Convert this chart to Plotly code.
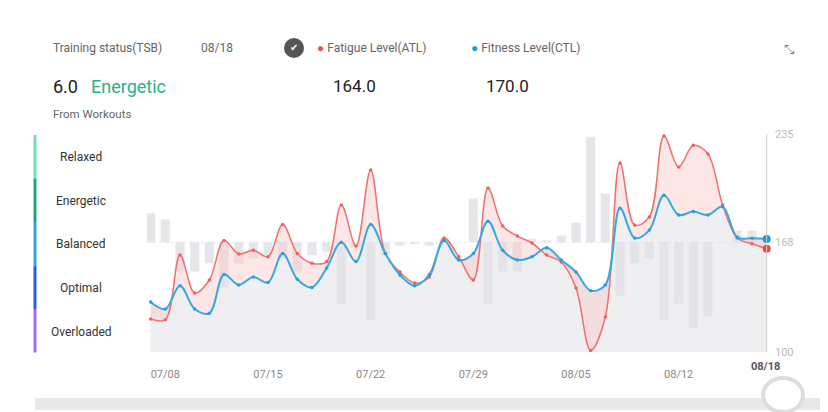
import plotly.graph_objects as go
import pandas as pd

dates = pd.date_range("2024-07-07", "2024-08-18").strftime("%Y-%m-%d").tolist()
atl = [120.4,120,160,136.5,144.6,169,160.7,163,159,179,161,155,156,191,165.6,212.7,161,149.5,
       142.7,146.4,170.6,159,144.6,201.5,178,171.8,167.5,160,155.7,139.6,101,121.7,217,178.6,183.6,
       233.7,214.6,228,222.6,191,170.6,167,164]
ctl = [131,126.6,141,126.6,124,148,141.5,146.4,143,161,145,140,152,168,156,179,161,147.7,
       141,148,169,157,161,181,163,157,159,164.5,157,149.5,138,141.5,189,170.6,175.5,
       197,184.8,187,184.8,190,171,170.5,170]
bars = [186,182,150,150,155,140,155,158,160,158,150,160,162,130,165,120,160,166,167,166,170,168,
        195,130,150,150,170,169,172,180,233,198,135,155,158,120,130,115,122,168,175,175,168]
status = ["Relaxed","Energetic","Balanced","Optimal","Overloaded"]
status_colors = ["#6fdcbc","#1fa67c","#2ea6dc","#2b5fd3","#a868f0"]
tick_dates = ["2024-07-08","2024-07-15","2024-07-22","2024-07-29","2024-08-05","2024-08-12"]
base = 168

OX, OY = 9, 8
W, H = 828 - OX, 412 - OY
L, R, T, B = 148 - OX, 53, 134 - OY, 60
def px(x): return (x - OX - L) / (W - L - R)
def py(y): return 1 - (y - OY - T) / (H - T - B)

fig = go.Figure()
fig.add_bar(x=dates, y=[b-base for b in bars], base=base, marker_color="rgba(200,200,205,0.45)",
            width=86400000*0.6, hoverinfo="skip")
fig.add_scatter(x=dates, y=ctl, mode="lines", line=dict(width=0, shape="spline"),
                fill="tozeroy", fillcolor="rgba(225,226,232,0.55)", hoverinfo="skip")
fig.add_scatter(x=dates, y=atl, mode="lines", line=dict(width=0, shape="spline"),
                fill="tonexty", fillcolor="rgba(250,200,200,0.45)", hoverinfo="skip")
fig.add_scatter(x=dates, y=atl, mode="lines+markers", line=dict(color="#f07070", width=1.5, shape="spline"),
                marker=dict(size=3.5, color="#f06060"))
fig.add_scatter(x=dates, y=ctl, mode="lines+markers", line=dict(color="#3aa8dc", width=2, shape="spline"),
                marker=dict(size=3.5, color="#2a9fd8"))
fig.add_scatter(x=[dates[-1]], y=[atl[-1]], mode="markers", marker=dict(size=8, color="#f04848"))
fig.add_scatter(x=[dates[-1]], y=[ctl[-1]], mode="markers", marker=dict(size=8, color="#1a98d8"))

fig.update_xaxes(type="date", range=["2024-07-06 18:00","2024-08-18 12:00"], tickvals=tick_dates,
                 tickformat="%m/%d", showgrid=False, zeroline=False, showline=False,
                 tickfont=dict(size=11, color="#888"), ticklabelstandoff=14)
fig.update_yaxes(range=[100,235], side="right", tickvals=[100,168,235], showgrid=True,
                 gridcolor="#eeeeee", griddash="dot", zeroline=False,
                 tickfont=dict(size=11, color="#bbb"))

shapes = [dict(type="line", xref="x", yref="paper", x0=dates[-1], x1=dates[-1], y0=0, y1=1,
               line=dict(color="#ccc", width=1)),
          dict(type="rect", xref="paper", yref="paper", x0=px(36), x1=px(828), y0=py(398), y1=py(410),
               fillcolor="#e8e8ea", line_width=0, layer="below"),
          dict(type="circle", xref="paper", yref="paper", x0=px(764), x1=px(804), y0=py(412), y1=py(378),
               fillcolor="white", line=dict(color="#ddd", width=4))]
for i, c in enumerate(status_colors):
    y0 = 135 + i*43.5
    shapes.append(dict(type="line", xref="paper", yref="paper", x0=px(36), x1=px(36),
                       y0=py(y0), y1=py(y0+43.5), line=dict(color=c, width=3)))
shapes.append(dict(type="circle", xref="paper", yref="paper", x0=px(285), x1=px(305), y0=py(58), y1=py(38),
                   fillcolor="#555", line_width=0))
ann = []
def t(x, y, text, size, color, anchor="left"):
    ann.append(dict(x=px(x), y=py(y), text=text, xanchor=anchor, yanchor="middle",
                    xref="paper", yref="paper", showarrow=False, font=dict(size=size, color=color)))
for i, s in enumerate(status):
    t(82, 157 + i*43.7, s, 12, "#333", "center")
t(52, 48, "Training status(TSB)", 12, "#666")
t(200, 48, "08/18", 12, "#666")
t(52, 86, "6.0", 18, "#222")
t(90, 86, "Energetic", 18, "#2bb088")
t(52, 114, "From Workouts", 11.5, "#666")
t(295, 48, "✔", 10, "white", "center")
t(316, 48, "<span style='color:#f05050'>●</span> Fatigue Level(ATL)", 12, "#666")
t(470, 48, "<span style='color:#1a9ad8'>●</span> Fitness Level(CTL)", 12, "#666")
t(332, 86, "164.0", 17, "#222")
t(485, 86, "170.0", 17, "#222")
t(750, 366, "<b>08/18</b>", 11, "#555")
t(783, 49, "⤡", 13, "#777")

fig.update_layout(width=W, height=H, margin=dict(l=L, r=R, t=T, b=B), showlegend=False,
                  plot_bgcolor="white", paper_bgcolor="white", barmode="overlay",
                  font=dict(family="Roboto"), shapes=shapes, annotations=ann)
fig.write_html("out.html")
